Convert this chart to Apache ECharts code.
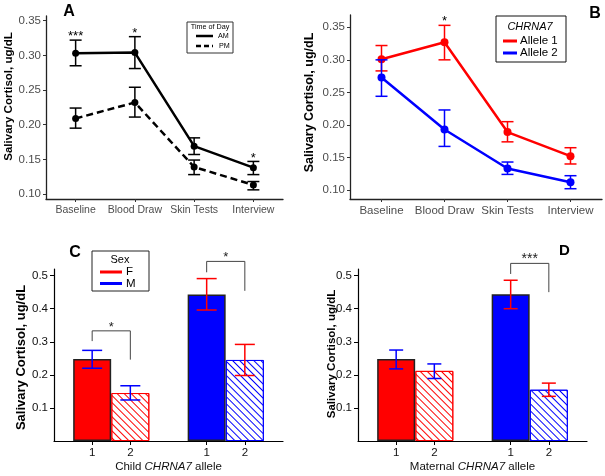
<!DOCTYPE html>
<html>
<head>
<meta charset="utf-8">
<script src="https://cdn.jsdelivr.net/npm/echarts@6/dist/echarts.min.js"></script>
<style>
  html, body { margin: 0; padding: 0; background: #fff; }
  #main { width: 605px; height: 476px; }
</style>
</head>
<body>
<div id="main"></div>
<script>
// panel A - time of day
const timePoints = ['Baseline', 'Blood Draw', 'Skin Tests', 'Interview']
const amMean = [0.303, 0.304, 0.169, 0.138]
const amLow = [0.285, 0.281, 0.157, 0.128]
const amHigh = [0.322, 0.327, 0.181, 0.147]
const pmMean = [0.209, 0.232, 0.139, 0.113]
const pmLow = [0.195, 0.211, 0.128, 0.106]
const pmHigh = [0.224, 0.254, 0.149, 0.118]
const starsA = ['***', '*', '', '*']

// panel B - CHRNA7 allele
const allele1Mean = [0.301, 0.327, 0.189, 0.152]
const allele1Low = [0.283, 0.300, 0.174, 0.140]
const allele1High = [0.322, 0.353, 0.205, 0.165]
const allele2Mean = [0.273, 0.193, 0.133, 0.112]
const allele2Low = [0.244, 0.167, 0.124, 0.102]
const allele2High = [0.300, 0.223, 0.143, 0.122]
const starsB = ['', '*', '', '']

// panels C / D - bars: F allele 1, F allele 2, M allele 1, M allele 2
const barSex = ['F', 'F', 'M', 'M']
const barAllele = ['1', '2', '1', '2']
const barSlot = [1, 2, 4, 5]
const childMean = [0.248, 0.145, 0.443, 0.245]
const childLow = [0.220, 0.124, 0.396, 0.198]
const childHigh = [0.274, 0.167, 0.491, 0.292]
const maternalMean = [0.248, 0.212, 0.444, 0.155]
const maternalLow = [0.218, 0.189, 0.400, 0.135]
const maternalHigh = [0.275, 0.233, 0.486, 0.175]
// [left bar, right bar, top, left leg end, right leg end, label]
const childBrackets = [[0, 1, 0.333, 0.302, 0.246, '*'], [2, 3, 0.543, 0.510, 0.454, '*']]
const maternalBrackets = [[2, 3, 0.537, 0.505, 0.450, '***']]

const ticksAB = [0.10, 0.15, 0.20, 0.25, 0.30, 0.35]
const ticksCD = [0.1, 0.2, 0.3, 0.4, 0.5]

const FONT = '"Liberation Sans", Arial, sans-serif'
const RED = '#ff0000'
const BLUE = '#0000ff'
const sexColor = { F: RED, M: BLUE }

const chart = echarts.init(document.getElementById('main'), null, { renderer: 'canvas' })

function errorBars(idx, low, high, xs, colors, capHalf) {
  return {
    type: 'custom', xAxisIndex: idx, yAxisIndex: idx, z: 4, silent: true,
    data: low.map((l, i) => [xs[i], l, high[i]]),
    renderItem(params, api) {
      const lo = api.coord([api.value(0), api.value(1)])
      const hi = api.coord([api.value(0), api.value(2)])
      const style = { stroke: colors[params.dataIndex], lineWidth: 1.5, fill: null }
      return {
        type: 'group', children: [
          { type: 'line', shape: { x1: lo[0], y1: lo[1], x2: hi[0], y2: hi[1] }, style },
          { type: 'line', shape: { x1: hi[0] - capHalf, y1: hi[1], x2: hi[0] + capHalf, y2: hi[1] }, style },
          { type: 'line', shape: { x1: lo[0] - capHalf, y1: lo[1], x2: lo[0] + capHalf, y2: lo[1] }, style }
        ]
      }
    }
  }
}

function stars(idx, labels, tops, fontSize) {
  const items = []
  labels.forEach((s, i) => { if (s) items.push([i, tops[i], s]) })
  return {
    type: 'custom', xAxisIndex: idx, yAxisIndex: idx, z: 5, silent: true,
    data: items.map(d => [d[0], d[1]]),
    renderItem(params, api) {
      const p = api.coord([api.value(0), api.value(1)])
      return {
        type: 'text', x: p[0], y: p[1] + 3,
        style: { text: items[params.dataIndex][2], fill: '#000', fontSize, fontFamily: FONT, align: 'center', verticalAlign: 'bottom' }
      }
    }
  }
}

function brackets(idx, list, fontSize) {
  return {
    type: 'custom', xAxisIndex: idx, yAxisIndex: idx, z: 5, silent: true, clip: false,
    data: list.map(b => [barSlot[b[0]], barSlot[b[1]], b[2], b[3], b[4]]),
    renderItem(params, api) {
      const x1 = api.value(0), x2 = api.value(1), top = api.value(2)
      const a = api.coord([x1, api.value(3)])
      const b = api.coord([x1, top])
      const c = api.coord([x2, top])
      const d = api.coord([x2, api.value(4)])
      return {
        type: 'group', children: [
          { type: 'polyline', shape: { points: [a, b, c, d] }, style: { stroke: '#444', lineWidth: 1, fill: null } },
          { type: 'text', x: (b[0] + c[0]) / 2, y: b[1] + 3,
            style: { text: list[params.dataIndex][5], fill: '#222', fontSize, fontFamily: FONT, align: 'center', verticalAlign: 'bottom' } }
        ]
      }
    }
  }
}

function barSeries(idx, means) {
  return {
    type: 'bar', xAxisIndex: idx, yAxisIndex: idx, barWidth: 38, z: 2, silent: true,
    data: means.map((v, i) => {
      const c = sexColor[barSex[i]]
      const hatched = barAllele[i] === '2'
      return {
        value: [barSlot[i], v],
        itemStyle: hatched
          ? { color: '#fff', borderColor: c, borderWidth: 1,
              decal: { symbol: 'rect', symbolSize: 1, color: c, dashArrayX: [1, 0], dashArrayY: [1, 3.5], rotation: Math.PI / 4 } }
          : { color: c, borderColor: '#222', borderWidth: 1.5 }
      }
    })
  }
}

const errColorsCD = barSex.map(s => s === 'F' ? BLUE : RED)

function yAxisAB(idx, min, max, fontSize) {
  return {
    gridIndex: idx, type: 'value', min, max,
    splitLine: { show: false },
    axisLine: { show: true, lineStyle: { color: '#222', width: 1.3 } },
    axisTick: { show: true, length: 3, customValues: ticksAB, lineStyle: { color: '#333' } },
    axisLabel: { customValues: ticksAB, formatter: v => v.toFixed(2), fontSize, color: '#4d4d4d', margin: 5, fontFamily: FONT }
  }
}

function xAxisAB(idx, fontSize) {
  return {
    gridIndex: idx, type: 'category', data: timePoints, boundaryGap: true,
    axisLine: { show: true, lineStyle: { color: '#222', width: 1.3 } },
    axisTick: { show: true, length: 3, alignWithLabel: true, lineStyle: { color: '#333' } },
    axisLabel: { interval: 0, fontSize, color: '#4d4d4d', margin: 6, fontFamily: FONT }
  }
}

function yAxisCD(idx) {
  return {
    gridIndex: idx, type: 'value', min: 0, max: 0.52,
    splitLine: { show: false },
    axisLine: { show: true, lineStyle: { color: '#000', width: 1.2 } },
    axisTick: { show: true, length: 4, customValues: ticksCD, lineStyle: { color: '#000' } },
    axisLabel: { customValues: ticksCD, formatter: v => v.toFixed(1), fontSize: 11.5, color: '#111', margin: 6, fontFamily: FONT }
  }
}

function xAxisCD(idx, prefix) {
  return {
    gridIndex: idx, type: 'value', min: 0, max: 6,
    splitLine: { show: false },
    axisLine: { show: true, lineStyle: { color: '#000', width: 1.2 } },
    axisTick: { show: true, length: 4, customValues: barSlot, lineStyle: { color: '#000' } },
    axisLabel: { customValues: barSlot, formatter: v => barAllele[barSlot.indexOf(v)], fontSize: 11.5, color: '#111', margin: 6, fontFamily: FONT },
    name: prefix + ' {i|CHRNA7} allele', nameLocation: 'middle', nameGap: 20,
    nameTextStyle: { fontSize: 11.5, color: '#111', fontFamily: FONT, rich: { i: { fontStyle: 'italic', fontSize: 11.5, color: '#111', fontFamily: FONT } } }
  }
}

function txt(x, y, text, size, extra) {
  return Object.assign({ type: 'text', x, y, silent: true,
    style: Object.assign({ text, fontSize: size, fontFamily: FONT, fill: '#000', align: 'center', verticalAlign: 'middle' }, extra && extra.style) },
    extra && extra.el)
}

function seg(x1, y1, x2, y2, color, width, dash) {
  return { type: 'line', silent: true, shape: { x1, y1, x2, y2 }, style: { stroke: color, lineWidth: width, lineDash: dash || null } }
}

const option = {
  animation: false,
  backgroundColor: '#fff',
  textStyle: { fontFamily: FONT },
  grid: [
    { left: 46, top: 16, width: 237, height: 183 },
    { left: 350, top: 15, width: 252, height: 184 },
    { left: 54, top: 269, width: 229, height: 172 },
    { left: 358, top: 269, width: 229, height: 172 }
  ],
  xAxis: [xAxisAB(0, 10.5), xAxisAB(1, 11.5), xAxisCD(2, 'Child'), xAxisCD(3, 'Maternal')],
  yAxis: [yAxisAB(0, 0.0928, 0.3568, 11.5), yAxisAB(1, 0.0862, 0.3689, 11.5), yAxisCD(2), yAxisCD(3)],
  series: [
    // A
    { type: 'line', name: 'AM', xAxisIndex: 0, yAxisIndex: 0, data: amMean, symbol: 'circle', symbolSize: 7,
      lineStyle: { color: '#000', width: 2.5 }, itemStyle: { color: '#000' }, z: 3, silent: true },
    { type: 'line', name: 'PM', xAxisIndex: 0, yAxisIndex: 0, data: pmMean, symbol: 'circle', symbolSize: 7,
      lineStyle: { color: '#000', width: 2.5, type: [7, 4] }, itemStyle: { color: '#000' }, z: 3, silent: true },
    errorBars(0, amLow, amHigh, [0, 1, 2, 3], amLow.map(() => '#000'), 6),
    errorBars(0, pmLow, pmHigh, [0, 1, 2, 3], pmLow.map(() => '#000'), 6),
    stars(0, starsA, amHigh, 13),
    // B
    { type: 'line', name: 'Allele 1', xAxisIndex: 1, yAxisIndex: 1, data: allele1Mean, symbol: 'circle', symbolSize: 8,
      lineStyle: { color: RED, width: 2.5 }, itemStyle: { color: RED }, z: 3, silent: true },
    { type: 'line', name: 'Allele 2', xAxisIndex: 1, yAxisIndex: 1, data: allele2Mean, symbol: 'circle', symbolSize: 8,
      lineStyle: { color: BLUE, width: 2.5 }, itemStyle: { color: BLUE }, z: 3, silent: true },
    errorBars(1, allele1Low, allele1High, [0, 1, 2, 3], allele1Low.map(() => RED), 6),
    errorBars(1, allele2Low, allele2High, [0, 1, 2, 3], allele2Low.map(() => BLUE), 6),
    stars(1, starsB, allele1High, 13),
    // C
    barSeries(2, childMean),
    errorBars(2, childLow, childHigh, barSlot, errColorsCD, 10),
    brackets(2, childBrackets, 13),
    // D
    barSeries(3, maternalMean),
    errorBars(3, maternalLow, maternalHigh, barSlot, errColorsCD, 7),
    brackets(3, maternalBrackets, 14)
  ],
  graphic: [
    txt(69, 12, 'A', 16, { style: { fontWeight: 'bold' } }),
    txt(595, 14, 'B', 16, { style: { fontWeight: 'bold' } }),
    txt(75, 253, 'C', 16, { style: { fontWeight: 'bold' } }),
    txt(564.5, 251, 'D', 15, { style: { fontWeight: 'bold' } }),
    txt(9, 96.5, 'Salivary Cortisol, ug/dL', 11.5, { style: { fontWeight: 'bold' }, el: { rotation: Math.PI / 2 } }),
    txt(309.5, 102.5, 'Salivary Cortisol, ug/dL', 12.5, { style: { fontWeight: 'bold' }, el: { rotation: Math.PI / 2 } }),
    txt(21.5, 357.5, 'Salivary Cortisol, ug/dL', 13, { style: { fontWeight: 'bold' }, el: { rotation: Math.PI / 2 } }),
    txt(332, 354, 'Salivary Cortisol, ug/dL', 11.5, { style: { fontWeight: 'bold' }, el: { rotation: Math.PI / 2 } }),
    // legend A
    { type: 'rect', silent: true, shape: { x: 187, y: 22, width: 46, height: 31 }, style: { fill: '#fff', stroke: '#333', lineWidth: 1 } },
    txt(210, 27.5, 'Time of Day', 7.2),
    seg(196, 36, 213, 36, '#000', 2.5),
    txt(218, 36, 'AM', 7.2, { style: { align: 'left' } }),
    seg(196, 46, 213, 46, '#000', 2.5, [5, 3]),
    txt(219, 46, 'PM', 7.2, { style: { align: 'left' } }),
    // legend B
    { type: 'rect', silent: true, shape: { x: 496, y: 16, width: 70, height: 46 }, style: { fill: '#fff', stroke: '#111', lineWidth: 1 } },
    txt(530, 27, 'CHRNA7', 11, { style: { fontStyle: 'italic' } }),
    seg(503, 41, 517, 41, RED, 3),
    txt(520, 41, 'Allele 1', 11.5, { style: { align: 'left' } }),
    seg(503, 53, 517, 53, BLUE, 3),
    txt(520, 53, 'Allele 2', 11.5, { style: { align: 'left' } }),
    // legend C
    { type: 'rect', silent: true, shape: { x: 92, y: 251, width: 57, height: 40 }, style: { fill: '#fff', stroke: '#222', lineWidth: 1 } },
    txt(120, 259.5, 'Sex', 11),
    seg(100, 272, 122, 272, RED, 3),
    txt(126, 272, 'F', 11.5, { style: { align: 'left' } }),
    seg(100, 283.5, 122, 283.5, BLUE, 3),
    txt(126, 283.5, 'M', 11.5, { style: { align: 'left' } })
  ]
}

chart.setOption(option)
</script>
</body>
</html>
